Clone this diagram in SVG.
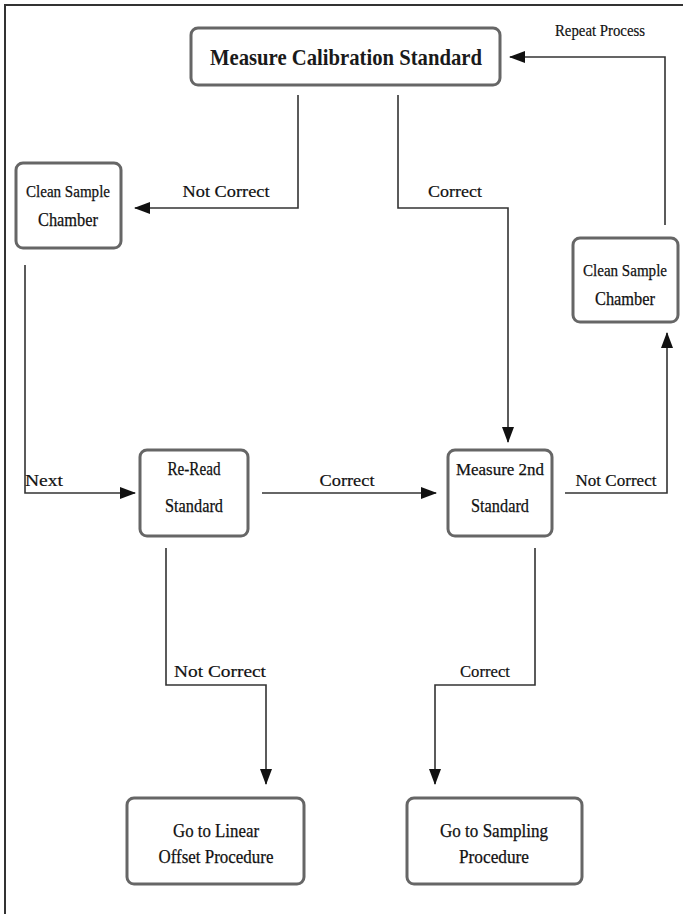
<svg xmlns="http://www.w3.org/2000/svg" width="683" height="914" viewBox="0 0 683 914">
<style>
.box{fill:#fff;stroke:#666;stroke-width:3}
.t{font-family:"Liberation Serif",serif;font-size:19px;fill:#111;stroke:#111;stroke-width:0.25;text-anchor:middle}
.s{font-size:17.5px}
.lbl{font-family:"Liberation Serif",serif;font-size:17px;fill:#111;stroke:#111;stroke-width:0.2;text-anchor:middle}
.title{font-family:"Liberation Serif",serif;font-size:23px;font-weight:bold;fill:#1a1a1a;text-anchor:middle}
.c{fill:none;stroke:#333;stroke-width:1.6}
</style>
<defs>
<marker id="ah" markerUnits="userSpaceOnUse" markerWidth="16" markerHeight="12" refX="15" refY="6" orient="auto">
<path d="M0,0 L16,6 L0,12 Z" fill="#111"/>
</marker>
</defs>
<rect width="683" height="914" fill="#fff"/>
<path d="M5,914 V5 H683" fill="none" stroke="#333" stroke-width="2"/>
<g id="connectors">
<path class="c" d="M298,95 V208 H135" marker-end="url(#ah)"/>
<path class="c" d="M398,95 V208 H508 V442" marker-end="url(#ah)"/>
<path class="c" d="M25,265 V493 H135" marker-end="url(#ah)"/>
<path class="c" d="M262,493 H436" marker-end="url(#ah)"/>
<path class="c" d="M565,493 H667 V333" marker-end="url(#ah)"/>
<path class="c" d="M665,225 V57 H510" marker-end="url(#ah)"/>
<path class="c" d="M166,548 V685 H266 V784" marker-end="url(#ah)"/>
<path class="c" d="M535,548 V685 H435 V784" marker-end="url(#ah)"/>
<text class="lbl" x="226" y="197" textLength="87" lengthAdjust="spacingAndGlyphs">Not Correct</text>
<text class="lbl" x="455" y="197" textLength="54" lengthAdjust="spacingAndGlyphs">Correct</text>
<text class="lbl" x="600" y="36" font-size="15" textLength="90" lengthAdjust="spacingAndGlyphs">Repeat Process</text>
<text class="lbl" x="44" y="486" textLength="38" lengthAdjust="spacingAndGlyphs">Next</text>
<text class="lbl" x="347" y="486" textLength="55" lengthAdjust="spacingAndGlyphs">Correct</text>
<text class="lbl" x="616" y="486" textLength="81" lengthAdjust="spacingAndGlyphs">Not Correct</text>
<text class="lbl" x="220" y="677" textLength="92" lengthAdjust="spacingAndGlyphs">Not Correct</text>
<text class="lbl" x="485" y="677" textLength="50" lengthAdjust="spacingAndGlyphs">Correct</text>
</g>
<g id="measure-calibration">
<rect class="box" x="191" y="28" width="309" height="57" rx="7"/>
<text class="title" x="346" y="65" textLength="272" lengthAdjust="spacingAndGlyphs">Measure Calibration Standard</text>
</g>
<g id="clean-left">
<rect class="box" x="16" y="163" width="105" height="85" rx="7"/>
<text class="t s" x="68" y="197" textLength="84" lengthAdjust="spacingAndGlyphs">Clean Sample</text>
<text class="t" x="68" y="226" textLength="60" lengthAdjust="spacingAndGlyphs">Chamber</text>
</g>
<g id="reread">
<rect class="box" x="140" y="450" width="108" height="86" rx="7"/>
<text class="t" x="194" y="475" textLength="53" lengthAdjust="spacingAndGlyphs">Re-Read</text>
<text class="t" x="194" y="512" textLength="58" lengthAdjust="spacingAndGlyphs">Standard</text>
</g>
<g id="measure-2nd">
<rect class="box" x="448" y="450" width="104" height="86" rx="7"/>
<text class="t s" x="500" y="475" textLength="88" lengthAdjust="spacingAndGlyphs">Measure 2nd</text>
<text class="t" x="500" y="512" textLength="58" lengthAdjust="spacingAndGlyphs">Standard</text>
</g>
<g id="clean-right">
<rect class="box" x="573" y="238" width="105" height="84" rx="7"/>
<text class="t s" x="625" y="276" textLength="84" lengthAdjust="spacingAndGlyphs">Clean Sample</text>
<text class="t" x="625" y="305" textLength="60" lengthAdjust="spacingAndGlyphs">Chamber</text>
</g>
<g id="linear-offset">
<rect class="box" x="127" y="798" width="177" height="86" rx="7"/>
<text class="t" x="216" y="837" textLength="86" lengthAdjust="spacingAndGlyphs">Go to Linear</text>
<text class="t" x="216" y="863" textLength="115" lengthAdjust="spacingAndGlyphs">Offset Procedure</text>
</g>
<g id="sampling">
<rect class="box" x="407" y="798" width="175" height="86" rx="7"/>
<text class="t" x="494" y="837" textLength="108" lengthAdjust="spacingAndGlyphs">Go to Sampling</text>
<text class="t" x="494" y="863" textLength="70" lengthAdjust="spacingAndGlyphs">Procedure</text>
</g>
</svg>
